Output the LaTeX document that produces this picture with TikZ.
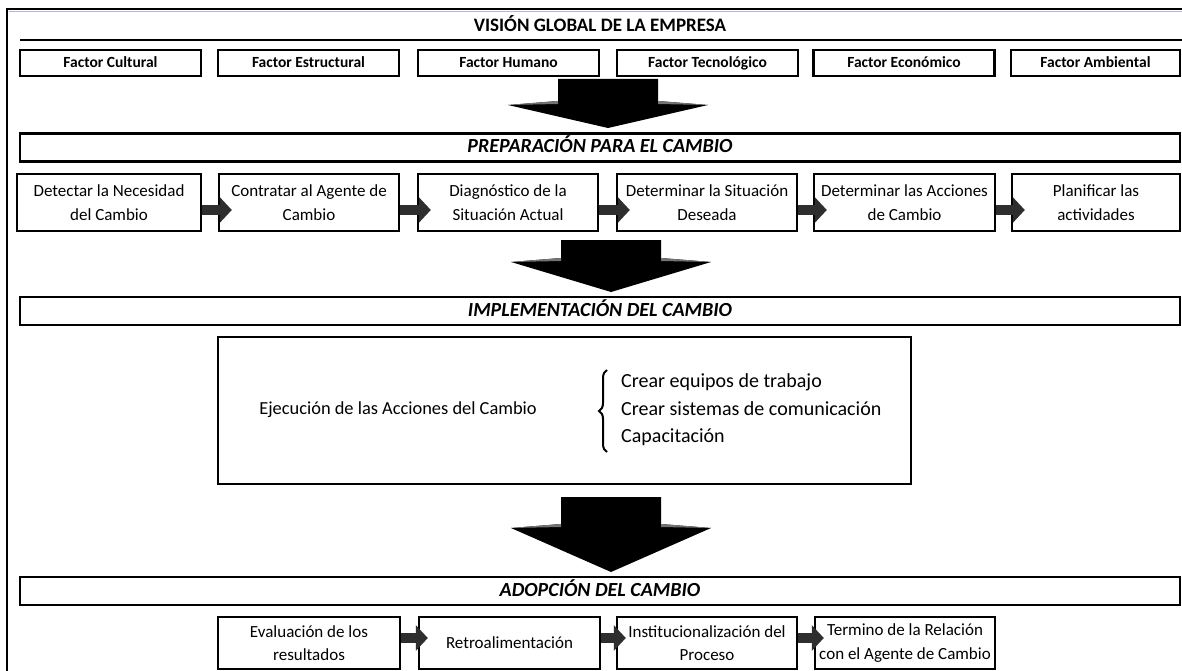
\documentclass[tikz,border=0pt]{standalone}
\usepackage{fontspec}
\setmainfont{Carlito}
\usetikzlibrary{arrows.meta,decorations.pathreplacing,calc}
\tikzset{
  stepbox/.style={draw, line width=2.4pt, inner sep=0pt, align=center,
    font=\fontsize{17}{23.5}\selectfont},
  factorbox/.style={draw, line width=2.4pt, inner sep=0pt, align=center,
    minimum width=181pt, minimum height=26pt, text height=12pt, text depth=2pt,
    font=\fontsize{15.5}{18}\selectfont\bfseries},
  barbox/.style={draw, line width=2.4pt, inner sep=0pt, minimum width=1160pt,
    minimum height=28pt, text height=14pt, text depth=4pt,
    font=\fontsize{20}{24}\selectfont\bfseries\itshape},
  sarr/.style={line width=10pt, draw=black!82, -{Triangle[length=12pt,width=25pt]}},
}
% x, top, shoulder, head level, tip
\newcommand{\bigarr}[5]{%
  \fill[black] ({#1-50},#2) -- ({#1+50},#2) -- ({#1+50},#3) --
    ({#1+100},#4) -- (#1,#5) -- ({#1-100},#4) -- ({#1-50},#3) -- cycle;
  \fill[black!55] ({#1-100},#4) -- ({#1-50},#3) -- ({#1-50},{#3+3}) -- cycle;
  \fill[black!55] ({#1+100},#4) -- ({#1+50},#3) -- ({#1+50},{#3+3}) -- cycle;
}
\begin{document}
\begin{tikzpicture}[x=1pt,y=-1pt]
\useasboundingbox (0,0) rectangle (1182,671);
\fill[white] (0,0) rectangle (1182,671);
% frame
\draw[line width=2pt] (7,671) -- (7,9) -- (1182,9);
\draw[line width=1pt, color=blue!25!gray!45] (9,11.5) -- (1182,11.5);
% title
\node[font=\fontsize{19}{22}\selectfont\bfseries, text height=13pt, text depth=4pt] (title) at (600,27) {VISIÓN GLOBAL DE LA EMPRESA};
\coordinate (tl) at (20,40);
\coordinate (tr) at (1182,40);
\draw[line width=2.4pt] (tl) -- (tr);
% factors
\node[factorbox] (f1) at (110.5,63) {Factor Cultural};
\node[factorbox] (f2) at (308.5,63) {Factor Estructural};
\node[factorbox] (f3) at (508.5,63) {Factor Humano};
\node[factorbox] (f4) at (707.5,63) {Factor Tecnológico};
\node[factorbox] (f5) at (904,63) {Factor Económico};
\node[factorbox, minimum width=169pt] (f6) at (1095.5,63) {Factor Ambiental};
% arrow 1
\bigarr{608}{79}{101}{105}{128}
% preparation
\node[barbox] (prep) at (600,147.5) {PREPARACIÓN PARA EL CAMBIO};
\node[stepbox, minimum width=184pt, minimum height=57pt] (p1) at (109,202.5) {Detectar la Necesidad\\del Cambio};
\node[stepbox, minimum width=180pt, minimum height=57pt] (p2) at (309,202.5) {Contratar al Agente de\\Cambio};
\node[stepbox, minimum width=180pt, minimum height=57pt] (p3) at (508,202.5) {Diagnóstico de la\\Situación Actual};
\node[stepbox, minimum width=180pt, minimum height=57pt] (p4) at (707,202.5) {Determinar la Situación\\Deseada};
\node[stepbox, minimum width=181pt, minimum height=57pt] (p5) at (904.5,202.5) {Determinar las Acciones\\de Cambio};
\node[stepbox, minimum width=168pt, minimum height=57pt] (p6) at (1096,202.5) {Planificar las\\actividades};
\foreach \a/\b in {p1/p2,p2/p3,p3/p4,p4/p5,p5/p6}{
  \draw[sarr] (\a.east |- 0,210) -- ([xshift=14pt]\b.west |- 0,210);
}
% arrow 2
\bigarr{611}{240}{258}{262}{292}
% implementation
\node[barbox] (impl) at (600,311) {IMPLEMENTACIÓN DEL CAMBIO};
\node[draw, line width=2.4pt, minimum width=693pt, minimum height=147pt, inner sep=0pt] (exec) at (564.5,410.5) {};
\node[font=\fontsize{18.4}{27}\selectfont] (exectext) at (398,410) {Ejecución de las Acciones del Cambio};
\draw[line width=2pt, decorate, decoration={brace, amplitude=8pt}] (607,452) -- (607,370);
\node[font=\fontsize{20}{27.5}\selectfont, align=left, anchor=west, inner sep=0pt] (list) at (621,410)
  {Crear equipos de trabajo\\Crear sistemas de comunicación\\Capacitación};
% arrow 3
\bigarr{611}{497}{524}{528}{572}
% adoption
\node[barbox] (adop) at (600,591) {ADOPCIÓN DEL CAMBIO};
\node[stepbox, minimum width=182pt, minimum height=52pt] (a1) at (309,643) {Evaluación de los\\resultados};
\node[stepbox, minimum width=181pt, minimum height=52pt] (a2) at (509.5,643) {Retroalimentación};
\node[stepbox, minimum width=180pt, minimum height=52pt] (a3) at (707,643) {Institucionalización del\\Proceso};
\node[stepbox, minimum width=180pt, minimum height=52pt] (a4) at (905,643) {Termino de la Relación\\con el Agente de Cambio};
\foreach \a/\b in {a1/a2,a2/a3,a3/a4}{
  \draw[sarr] (\a.east |- 0,638) -- ([xshift=10pt]\b.west |- 0,638);
}
\end{tikzpicture}
\end{document}
